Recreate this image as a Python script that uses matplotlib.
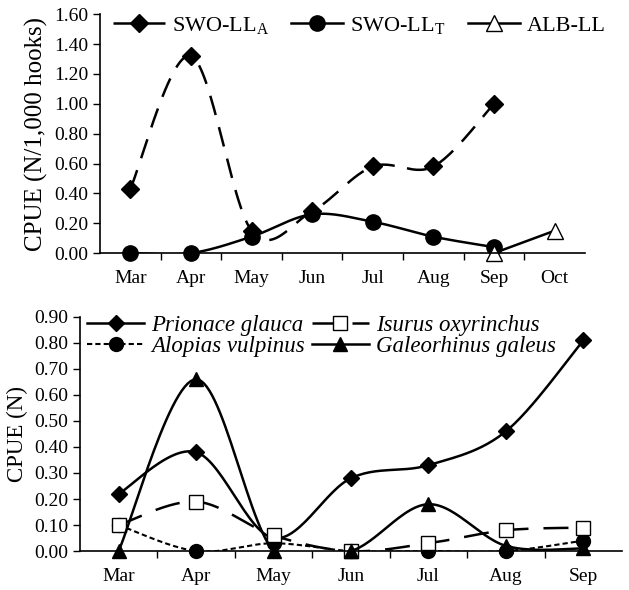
import numpy as np
import matplotlib.pyplot as plt

plt.rcParams['font.family'] = ['Liberation Serif', 'DejaVu Serif']
plt.rcParams['mathtext.fontset'] = 'custom'
plt.rcParams['mathtext.rm'] = 'Liberation Serif'

# top panel data
months_top = ['Mar', 'Apr', 'May', 'Jun', 'Jul', 'Aug', 'Sep', 'Oct']
swo_a = [0.43, 1.32, 0.15, 0.28, 0.58, 0.58, 1.00]
swo_t = [0.00, 0.00, 0.11, 0.26, 0.21, 0.11, 0.04]
alb = [0.00, 0.15]  # Sep, Oct

# bottom panel data
months_bot = ['Mar', 'Apr', 'May', 'Jun', 'Jul', 'Aug', 'Sep']
prionace = [0.22, 0.38, 0.05, 0.28, 0.33, 0.46, 0.81]
isurus = [0.10, 0.19, 0.06, 0.00, 0.03, 0.08, 0.09]
alopias = [0.10, 0.00, 0.03, 0.00, 0.00, 0.00, 0.04]
galeorhinus = [0.00, 0.66, 0.00, 0.00, 0.18, 0.02, 0.01]


def smooth(x, y, n=30):
    # Excel-like smoothed line (Catmull-Rom through the points)
    x = np.asarray(x, float)
    y = np.asarray(y, float)
    if len(x) < 3:
        return x, y
    px = np.concatenate([[x[0]], x, [x[-1]]])
    py = np.concatenate([[y[0]], y, [y[-1]]])
    xs, ys = [], []
    t = np.linspace(0, 1, n)
    for i in range(1, len(px) - 2):
        p0, p1, p2, p3 = [np.array([px[j], py[j]]) for j in range(i - 1, i + 3)]
        c1 = p1 + (p2 - p0) / 6
        c2 = p2 - (p3 - p1) / 6
        b = ((1 - t) ** 3)[:, None] * p1 + (3 * (1 - t) ** 2 * t)[:, None] * c1 \
            + (3 * (1 - t) * t ** 2)[:, None] * c2 + (t ** 3)[:, None] * p2
        xs.extend(b[:, 0])
        ys.extend(b[:, 1])
    return np.array(xs), np.array(ys)


def style_axis(ax, labels):
    ncat = len(labels)
    for s in ['top', 'right']:
        ax.spines[s].set_visible(False)
    ax.spines['left'].set_linewidth(1.2)
    ax.spines['bottom'].set_linewidth(1.2)
    ax.set_xlim(-0.5, ncat - 0.5)
    ax.set_xticks(np.arange(ncat - 1) + 0.5)
    ax.tick_params(axis='x', which='major', length=5, width=1, labelbottom=False)
    ax.set_xticks(np.arange(ncat), minor=True)
    ax.set_xticklabels(labels, minor=True, fontsize=14)
    ax.tick_params(axis='x', which='minor', length=0, pad=12)
    ax.tick_params(axis='y', length=5, width=1, labelsize=14)


fig = plt.figure(figsize=(6.29, 5.90), dpi=100)

# ---- top panel
ax1 = fig.add_axes([0.159, 0.571, 0.771, 0.405])
style_axis(ax1, months_top)

x = np.arange(len(swo_a))
sx, sy = smooth(x, swo_a)
ax1.plot(sx, sy, color='black', lw=1.8, dashes=(8, 5))
ax1.plot(x, swo_a, 'D', color='black', ms=9, ls='none')
ax1.plot([], [], color='black', lw=1.8, dashes=(8, 5), marker='D', ms=9,
         label=r'SWO-LL$_\mathregular{A}$')

x = np.arange(len(swo_t))
sx, sy = smooth(x, swo_t)
ax1.plot(sx, sy, color='black', lw=1.8)
ax1.plot(x, swo_t, 'o', color='black', ms=11, ls='none', clip_on=False)
ax1.plot([], [], color='black', lw=1.8, marker='o', ms=11,
         label=r'SWO-LL$_\mathregular{T}$')

x = np.arange(6, 6 + len(alb))
ax1.plot(x, alb, color='black', lw=1.8, marker='^', ms=12, mfc='white',
         mec='black', label='ALB-LL', clip_on=False)

ax1.set_ylim(0, 1.6)
ax1.set_yticks(np.arange(0, 1.61, 0.2))
ax1.set_yticklabels(['%.2f' % v for v in np.arange(0, 1.61, 0.2)])
ax1.set_ylabel('CPUE (N/1,000 hooks)', fontsize=18)
ax1.legend(loc='upper left', bbox_to_anchor=(-0.015, 1.08), ncol=3, frameon=False,
           fontsize=16, handlelength=2.35, columnspacing=1.0, handletextpad=0.3)

# ---- bottom panel
ax2 = fig.add_axes([0.127, 0.066, 0.862, 0.397])
style_axis(ax2, months_bot)

x = np.arange(len(months_bot))
sx, sy = smooth(x, prionace)
ax2.plot(sx, sy, color='black', lw=1.8)
ax2.plot(x, prionace, 'D', color='black', ms=8, ls='none', clip_on=False)
ax2.plot([], [], color='black', lw=1.8, marker='D', ms=8, label='Prionace glauca')

sx, sy = smooth(x, alopias)
ax2.plot(sx, sy, color='black', lw=1.5, dashes=(2.5, 1.5))
ax2.plot(x, alopias, 'o', color='black', ms=10, ls='none', clip_on=False)
ax2.plot([], [], color='black', lw=1.5, dashes=(2.5, 1.5), marker='o', ms=10,
         label='Alopias vulpinus')

sx, sy = smooth(x, isurus)
ax2.plot(sx, sy, color='black', lw=1.8, dashes=(10, 6))
ax2.plot(x, isurus, 's', color='black', mfc='white', ms=10, ls='none', clip_on=False)
ax2.plot([], [], color='black', lw=1.8, dashes=(10, 6), marker='s', mfc='white', ms=10,
         label='Isurus oxyrinchus')

sx, sy = smooth(x, galeorhinus)
ax2.plot(sx, sy, color='black', lw=1.8)
ax2.plot(x, galeorhinus, '^', color='black', ms=10, ls='none', clip_on=False)
ax2.plot([], [], color='black', lw=1.8, marker='^', ms=10, label='Galeorhinus galeus')

ax2.set_ylim(0, 0.9)
ax2.set_yticks(np.arange(0, 0.91, 0.1))
ax2.set_yticklabels(['%.2f' % v for v in np.arange(0, 0.91, 0.1)])
ax2.set_ylabel('CPUE (N)', fontsize=16.5)
ax2.legend(loc='upper left', bbox_to_anchor=(-0.025, 1.095), ncol=2, frameon=False,
           handlelength=2.5, columnspacing=0.3, handletextpad=0.3,
           labelspacing=0.0, prop={'style': 'italic', 'size': 16.5})

fig.savefig('out.png', dpi=100)
